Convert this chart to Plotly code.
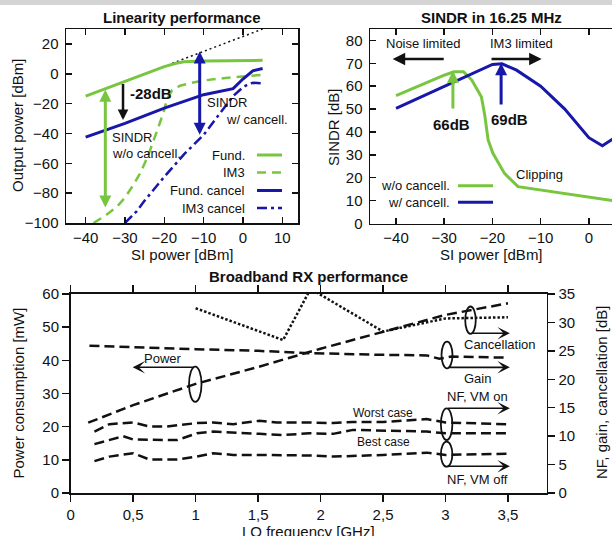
import plotly.graph_objects as go

W, H = 612, 536
FONT = "Liberation Sans, Arial, sans-serif"
GREEN = "#78c63f"
BLUE = "#1717aa"
BLACK = "#111111"

# ---------------- Linearity performance (top-left) ----------------
lin_fund_x = [-40, -35, -30, -25, -20, -17, -15, -10, -5, 0, 5]
lin_fund_y = [-15, -10, -5, 0, 4.8, 7, 8, 8.5, 8.7, 8.8, 9]
lin_im3_x = [-38, -35, -32, -30, -28, -26, -24, -22, -21, -20, -19.3, -18, -16, -13, -10, -5, 0, 5]
lin_im3_y = [-100, -95, -89, -83, -75, -66, -54, -40, -32, -24, -17, -11, -8, -6, -4.5, -3, -1.8, -0.7]
lin_fcan_x = [-40, -30, -20, -10, -2.5, 0, 2.5, 5]
lin_fcan_y = [-42.5, -33.3, -23, -14, -10, -3.5, 2, 3.5]
lin_im3c_x = [-30, -27, -25, -20, -15, -10, -6, -2.5, 0, 1.5, 2.6, 5]
lin_im3c_y = [-100, -92, -85, -69, -54, -41, -27, -15, -9, -6.8, -6, -6.5]
lin_extrap_x = [-18, 5]
lin_extrap_y = [7, 30]
lin_xticks = [-40, -30, -20, -10, 0, 10]
lin_yticks = [-100, -80, -60, -40, -20, 0, 20]

# ---------------- SINDR in 16.25 MHz (top-right) ----------------
sindr_wo_x = [-40, -35, -30, -28, -26, -24.3, -22.3, -21.6, -20.9, -19.9, -17.5, -14.7, -10, -5, 0, 5]
sindr_wo_y = [55.9, 60.4, 64.8, 66.3, 66.3, 62.7, 55.4, 47.4, 36.5, 30.7, 21.9, 16.1, 14.6, 13, 11.5, 10]
sindr_w_x = [-40, -30, -20, -18, -15, -10, -5, 0, 2.8, 5]
sindr_w_y = [50.3, 60, 69.5, 69.8, 67, 60, 50, 37.5, 34, 37]
sindr_xticks = [-40, -30, -20, -10, 0, 10]
sindr_yticks = [0, 10, 20, 30, 40, 50, 60, 70, 80]

# ---------------- Broadband RX performance (bottom) ----------------
bb_power_f = [0.14, 0.5, 1.0, 1.5, 2.0, 2.5, 3.0, 3.5]
bb_power_mw = [21.2, 26.5, 32.9, 38, 43.5, 48.6, 53.7, 57.2]
bb_gain_f = [0.15, 0.5, 1.0, 1.5, 1.9, 2.5, 2.85, 2.95, 3.05, 3.5]
bb_gain_db = [25.9, 25.6, 25.3, 25.0, 24.6, 24.3, 24.2, 23.6, 24.0, 23.8]
bb_canc_f = [1.0, 1.7, 1.92, 2.5, 3.0, 3.5]
bb_canc_db = [32.5, 26.9, 35.9, 28.4, 30.7, 30.9]
bb_nf_worst_f = [0.19, 0.31, 0.5, 0.63, 0.77, 1.01, 1.14, 1.3, 1.51, 1.65, 1.91, 2.1, 2.26, 2.5, 2.85, 3.0, 3.5]
bb_nf_worst_db = [10.8, 12.1, 12.4, 11.7, 11.7, 12.3, 12.4, 12.1, 12.7, 12.4, 12.4, 12.3, 12.5, 12.5, 13.0, 12.4, 12.1]
bb_nf_best_f = [0.19, 0.42, 0.5, 0.85, 1.01, 1.14, 1.51, 1.7, 1.91, 2.1, 2.26, 2.5, 2.85, 3.0, 3.5]
bb_nf_best_db = [8.6, 10.0, 9.4, 9.3, 10.5, 10.8, 10.4, 10.2, 10.5, 10.4, 11.1, 11.0, 10.8, 10.5, 10.5]
bb_nf_off_f = [0.19, 0.31, 0.5, 0.63, 0.85, 1.01, 1.14, 1.3, 1.51, 1.91, 2.1, 2.5, 2.85, 3.0, 3.5]
bb_nf_off_db = [5.6, 6.4, 7.0, 5.9, 5.9, 6.4, 7.0, 6.7, 6.7, 6.6, 6.4, 6.7, 7.1, 6.7, 6.9]
bb_xticks = [0, 0.5, 1, 1.5, 2, 2.5, 3, 3.5]
bb_xticklabels = ["0", "0,5", "1", "1,5", "2", "2,5", "3", "3,5"]
bb_yticks_left = [0, 10, 20, 30, 40, 50, 60]
bb_yticks_right = [0, 5, 10, 15, 20, 25, 30, 35]


def px(x):
    return x / W


def py(y):
    return 1 - y / H


fig = go.Figure()


def line(x, y, xa, ya, color, width, dash="solid"):
    fig.add_trace(go.Scatter(x=x, y=y, xaxis=xa, yaxis=ya, mode="lines",
                             line=dict(color=color, width=width, dash=dash),
                             showlegend=False, hoverinfo="skip"))


# top-left traces
line(lin_extrap_x, lin_extrap_y, "x", "y", BLACK, 1.5, "2px,3px")
line(lin_fund_x, lin_fund_y, "x", "y", GREEN, 3)
line(lin_im3_x, lin_im3_y, "x", "y", GREEN, 2.5, "9px,6px")
line(lin_fcan_x, lin_fcan_y, "x", "y", BLUE, 3)
line(lin_im3c_x, lin_im3c_y, "x", "y", BLUE, 2.5, "10px,4px,3px,4px")

# top-right traces
line(sindr_wo_x, sindr_wo_y, "x2", "y2", GREEN, 3)
line(sindr_w_x, sindr_w_y, "x2", "y2", BLUE, 3)

# bottom traces
DASH = "10px,5px"
line(bb_power_f, bb_power_mw, "x3", "y3", BLACK, 2.5, DASH)
line(bb_gain_f, bb_gain_db, "x3", "y4", BLACK, 2.5, DASH)
line(bb_canc_f, bb_canc_db, "x3", "y4", BLACK, 2.5, "2.5px,2px")
line(bb_nf_worst_f, bb_nf_worst_db, "x3", "y4", BLACK, 2.5, DASH)
line(bb_nf_best_f, bb_nf_best_db, "x3", "y4", BLACK, 2.5, DASH)
line(bb_nf_off_f, bb_nf_off_db, "x3", "y4", BLACK, 2.5, DASH)

tickfont = dict(family=FONT, size=15, color=BLACK)
common_in = dict(showgrid=False, zeroline=False, showline=True, linecolor=BLACK, linewidth=1.5,
                 ticks="inside", ticklen=6, tickwidth=1.5, tickcolor=BLACK, tickfont=tickfont,
                 automargin=False)
common_out = dict(showgrid=False, zeroline=False, showline=True, linecolor=BLACK, linewidth=1.7,
                  ticks="outside", ticklen=7, tickwidth=1.5, tickcolor=BLACK, tickfont=tickfont,
                  automargin=False)

fig.update_layout(
    width=W, height=H, margin=dict(l=0, r=0, t=0, b=0),
    paper_bgcolor="white", plot_bgcolor="white",
    font=dict(family=FONT, size=13, color=BLACK),
    xaxis=dict(domain=[px(66), px(298)], range=[-45, 14], anchor="y", tickvals=lin_xticks,
               mirror="ticks", **common_in),
    yaxis=dict(domain=[py(223), py(29)], range=[-100, 30], anchor="x", tickvals=lin_yticks,
               mirror="ticks", ticklabelstandoff=3, **common_in),
    xaxis2=dict(domain=[px(370), 1], range=[-45.4, 4.8], anchor="y2", tickvals=sindr_xticks,
                mirror="ticks", **common_in),
    yaxis2=dict(domain=[py(223.5), py(29)], range=[0, 85], anchor="x2", tickvals=sindr_yticks,
                mirror=False, ticklabelstandoff=3, **common_in),
    yaxis5=dict(overlaying="y2", matches="y2", anchor="x2", side="right", showgrid=False,
                zeroline=False, showline=False, ticks="inside", ticklen=6, tickwidth=1.5,
                tickcolor=BLACK, showticklabels=False, tickvals=sindr_yticks, range=[0, 85]),
    xaxis3=dict(domain=[px(70.7), px(546.7)], range=[0, 3.81], anchor="y3", tickvals=bb_xticks,
                ticktext=bb_xticklabels, mirror="ticks", **common_out),
    yaxis3=dict(domain=[py(493), py(294)], range=[0, 60], anchor="x3", tickvals=bb_yticks_left,
                mirror=False, **common_out),
    yaxis4=dict(overlaying="y3", anchor="x3", side="right", range=[0, 35], tickvals=bb_yticks_right,
                **common_out),
)

shapes = []
annotations = []

# gray strip at top (screenshot border)
shapes.append(dict(type="rect", xref="paper", yref="paper", x0=0, x1=1, y0=py(5), y1=1,
                   fillcolor="#d4d4d4", line=dict(width=0), layer="above"))


def text(x, y, s, xref="paper", yref="paper", size=13, bold=False, xanchor="center",
         yanchor="middle", angle=0, color=BLACK):
    if bold:
        s = "<b>" + s + "</b>"
    annotations.append(dict(x=x, y=y, xref=xref, yref=yref, text=s, showarrow=False,
                            xanchor=xanchor, yanchor=yanchor, textangle=angle,
                            font=dict(family=FONT, size=size, color=color)))


def arrow(x, y, ax, ay, xr, yr, color, width, head=2, size=1.0, both=False):
    d = dict(x=x, y=y, ax=ax, ay=ay, xref=xr, yref=yr, axref=xr, ayref=yr, text="",
             showarrow=True, arrowhead=head, arrowsize=size, arrowwidth=width,
             arrowcolor=color, standoff=0, startstandoff=0)
    if both:
        d["arrowside"] = "end+start"
        d["startarrowhead"] = head
        d["startarrowsize"] = size
    annotations.append(d)


# titles & axis titles
text(px(182), py(17), "Linearity performance", size=15, bold=True)
text(px(491), py(17), "SINDR in 16.25 MHz", size=15, bold=True)
text(px(308.5), py(276), "Broadband RX performance", size=15, bold=True)
text(px(18), py(126), "Output power [dBm]", size=15, angle=-90)
text(px(182), py(254), "SI power [dBm]", size=15)
text(px(333), py(127), "SINDR [dB]", size=15, angle=-90)
text(px(491), py(254), "SI power [dBm]", size=15)
text(px(17.5), py(393), "Power consumption [mW]", size=15, angle=-90)
text(px(601.5), py(392.5), "NF, gain, cancellation [dB]", size=15, angle=-90)
text(px(308.7), py(531), "LO frequency [GHz]", size=15)

# linearity annotations
arrow(-35, -10.7, -35, -90.7, "x", "y", GREEN, 3, head=2, size=0.8, both=True)
arrow(-11, 14.9, -11, -41.8, "x", "y", BLUE, 3, head=2, size=0.8, both=True)
arrow(-30.5, -31, -30.5, -5.8, "x", "y", BLACK, 2.5, head=2, size=0.85)
text(-29.2, -13.3, "-28dB", xref="x", yref="y", size=15, bold=True, xanchor="left")
text(-33.9, -42.9, "SINDR", xref="x", yref="y", size=13, xanchor="left")
text(-33.9, -53.3, "w/o cancell.", xref="x", yref="y", size=13, xanchor="left")
text(-9.7, -19.3, "SINDR", xref="x", yref="y", size=13, xanchor="left")
text(-4.7, -30.7, "w/ cancell.", xref="x", yref="y", size=13, xanchor="left")

# linearity legend
leg1 = [("Fund.", 155, GREEN, "solid", 3), ("IM3", 172.5, GREEN, "9px,6px", 2.5),
        ("Fund. cancel", 190.5, BLUE, "solid", 3), ("IM3 cancel", 208, BLUE, "10px,4px,3px,4px", 2.5)]
for lab, yy, col, dsh, wd in leg1:
    text(px(247), py(yy), lab, size=13, xanchor="right")
    shapes.append(dict(type="line", xref="paper", yref="paper", x0=px(257), x1=px(282),
                       y0=py(yy), y1=py(yy), line=dict(color=col, width=wd, dash=dsh)))

# SINDR annotations
text(-34.5, 78.8, "Noise limited", xref="x2", yref="y2", size=13)
text(-13.9, 78.8, "IM3 limited", xref="x2", yref="y2", size=13)
arrow(-40.7, 71.9, -29.8, 71.9, "x2", "y2", BLACK, 2.5, head=2, size=1.0)
arrow(-9.8, 71.9, -20.5, 71.9, "x2", "y2", BLACK, 2.5, head=2, size=1.0)
arrow(-28.2, 66.8, -28.2, 49.6, "x2", "y2", GREEN, 3, head=2, size=0.8)
arrow(-18.2, 70.0, -18.2, 51.4, "x2", "y2", BLUE, 3, head=2, size=0.8)
text(-28.5, 43.4, "66dB", xref="x2", yref="y2", size=15, bold=True)
text(-16.5, 45.5, "69dB", xref="x2", yref="y2", size=15, bold=True)
text(-10.3, 21.2, "Clipping", xref="x2", yref="y2", size=13)

leg2 = [("w/o cancell.", 185.7, GREEN), ("w/ cancell.", 202.3, BLUE)]
for lab, yy, col in leg2:
    text(px(452), py(yy), lab, size=13, xanchor="right")
    shapes.append(dict(type="line", xref="paper", yref="paper", x0=px(458), x1=px(493),
                       y0=py(yy), y1=py(yy), line=dict(color=col, width=3)))

# broadband annotations
ELW = 1.8


def ellipse(xc, yc, hw, hh, yref):
    shapes.append(dict(type="circle", xref="x3", yref=yref, x0=xc - hw, x1=xc + hw,
                       y0=yc - hh, y1=yc + hh, line=dict(color=BLACK, width=ELW)))


ellipse(0.997, 32.8, 0.05, 5.3, "y3")
arrow(0.496, 37.9, 0.997, 37.9, "x3", "y3", BLACK, 1.6, head=3, size=1.3)
text(0.741, 40.6, "Power", xref="x3", yref="y3", size=13)

ellipse(3.20, 30.4, 0.042, 2.4, "y4")
arrow(3.515, 28.1, 3.20, 28.1, "x3", "y4", BLACK, 1.6, head=3, size=1.3)
text(3.435, 26.15, "Cancellation", xref="x3", yref="y4", size=13)

ellipse(3.012, 24.27, 0.044, 2.34, "y4")
arrow(3.515, 22.1, 3.012, 22.1, "x3", "y4", BLACK, 1.6, head=3, size=1.3)
text(3.26, 20.2, "Gain", xref="x3", yref="y4", size=13)

ellipse(3.009, 12.1, 0.046, 2.78, "y4")
arrow(3.515, 14.9, 3.009, 14.9, "x3", "y4", BLACK, 1.6, head=3, size=1.3)
text(3.26, 16.94, "NF, VM on", xref="x3", yref="y4", size=13)

ellipse(3.009, 6.83, 0.046, 2.2, "y4")
arrow(3.515, 4.7, 3.009, 4.7, "x3", "y4", BLACK, 1.6, head=3, size=1.3)
text(3.26, 2.29, "NF, VM off", xref="x3", yref="y4", size=13)

text(2.50, 14.0, "Worst case", xref="x3", yref="y4", size=12)
text(2.50, 9.0, "Best case", xref="x3", yref="y4", size=12)

fig.update_layout(shapes=shapes, annotations=annotations)
fig.write_html("out.html", config={"displayModeBar": False, "staticPlot": True},
               post_script="document.body.style.margin='0';document.body.style.overflow='hidden';")
